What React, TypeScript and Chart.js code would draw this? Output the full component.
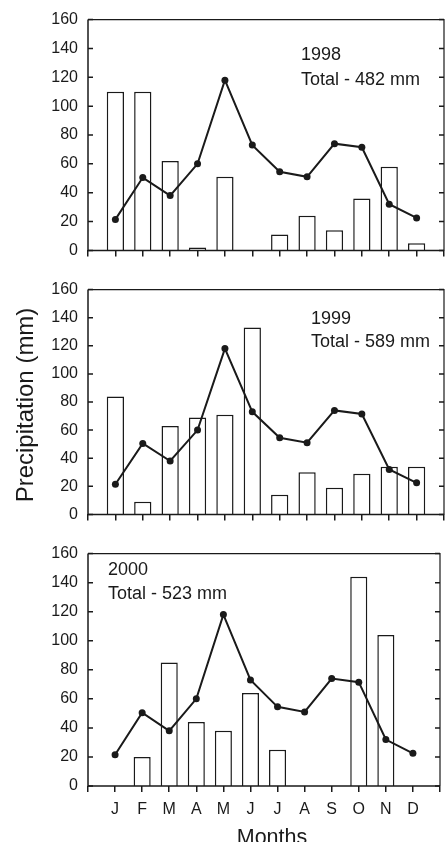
import React, { useEffect, useRef } from 'react';
import { Chart, registerables } from 'chart.js';

Chart.register(...registerables);

// ---------- data ----------
const months = ['J', 'F', 'M', 'A', 'M', 'J', 'J', 'A', 'S', 'O', 'N', 'D'];
const axisLabels = ['', ...months, ''];
const meanLine = [21.5, 50.5, 38, 60, 118, 73, 54.5, 51, 74, 71.5, 32, 22.5];
const rain1998 = [110, 110, 62, 2, 51, null, 11, 24, 14, 36, 58, 5];
const rain1999 = [84, 9, 63, 69, 71, 133, 14, 30, 19, 29, 34, 34];
const rain2000 = [null, 20, 85, 44, 38, 64, 25, null, null, 144, 104, null];
const yearLabels = ['1998', '1999', '2000'];
const totalLabels = ['Total - 482 mm', 'Total - 589 mm', 'Total - 523 mm'];
const yMin = 0;
const yMax = 160;
const yStep = 20;
const yTitle = 'Precipitation (mm)';
const xTitle = 'Months';

const FONT = "'Liberation Sans', Arial, Helvetica, sans-serif";
const INK = '#1a1a1a';

type TextItem = { text: string; x: number; y: number; size: number; align?: CanvasTextAlign; rotate?: boolean };

const framePlugin = {
  id: 'frame',
  afterDatasetsDraw(chart: any, _args: any, opts: any) {
    const { ctx, chartArea: a, scales } = chart;
    const ys = scales.y;
    ctx.save();
    ctx.strokeStyle = INK;
    ctx.lineWidth = 1.5;
    ctx.beginPath();
    ctx.moveTo(a.left, a.top);
    ctx.lineTo(a.left, a.bottom);
    ctx.lineTo(a.right, a.bottom);
    ctx.stroke();
    ctx.lineWidth = 1.2;
    ctx.beginPath();
    ctx.moveTo(a.left, a.top);
    ctx.lineTo(a.right, a.top);
    ctx.lineTo(a.right, a.bottom);
    ctx.stroke();
    ctx.lineWidth = 1.5;
    ctx.beginPath();
    ys.ticks.forEach((t: any) => {
      const py = ys.getPixelForValue(t.value);
      ctx.moveTo(a.left, py);
      ctx.lineTo(a.left + 5, py);
      ctx.moveTo(a.right, py);
      ctx.lineTo(a.right - 5, py);
    });
    ctx.stroke();
    ctx.restore();
  },
  afterDraw(chart: any, _args: any, opts: any) {
    const { ctx } = chart;
    const off = opts.offsetY || 0;
    (opts.texts || []).forEach((t: TextItem) => {
      ctx.save();
      ctx.fillStyle = INK;
      ctx.font = `${t.size}px ${FONT}`;
      ctx.textBaseline = 'alphabetic';
      ctx.textAlign = t.align || 'left';
      if (t.rotate) {
        ctx.translate(t.x, t.y - off);
        ctx.rotate(-Math.PI / 2);
        ctx.fillText(t.text, 0, 0);
      } else {
        ctx.fillText(t.text, t.x, t.y - off);
      }
      ctx.restore();
    });
  },
};

type Panel = {
  top: number;
  height: number;
  padTop: number;
  xHeight: number;
  showMonths: boolean;
  bars: (number | null)[];
  texts: TextItem[];
};

const panels: Panel[] = [
  {
    top: 0, height: 270, padTop: 19, xHeight: 12, showMonths: false, bars: rain1998,
    texts: [
      { text: yearLabels[0], x: 301, y: 60, size: 18 },
      { text: totalLabels[0], x: 301, y: 84.5, size: 18 },
    ],
  },
  {
    top: 270, height: 264, padTop: 12, xHeight: 12, showMonths: false, bars: rain1999,
    texts: [
      { text: yearLabels[1], x: 311, y: 323.5, size: 18 },
      { text: totalLabels[1], x: 311, y: 347, size: 18 },
      { text: yTitle, x: 33, y: 405, size: 24, align: 'center', rotate: true },
    ],
  },
  {
    top: 534, height: 308, padTop: 13, xHeight: 56, showMonths: true, bars: rain2000,
    texts: [
      { text: yearLabels[2], x: 108, y: 575, size: 18 },
      { text: totalLabels[2], x: 108, y: 598.5, size: 18 },
      { text: xTitle, x: 272, y: 844, size: 21.5, align: 'center' },
    ],
  },
];

function PanelChart({ p }: { p: Panel }) {
  const ref = useRef<HTMLCanvasElement>(null);
  useEffect(() => {
    if (!ref.current) return;
    const chart = new Chart(ref.current, {
      type: 'bar',
      data: {
        labels: axisLabels,
        datasets: [
          {
            type: 'line',
            data: [null, ...meanLine, null],
            borderColor: INK,
            borderWidth: 2,
            pointRadius: 3.5,
            pointBackgroundColor: INK,
            pointBorderWidth: 0,
            tension: 0,
            order: 0,
          } as any,
          {
            type: 'bar',
            data: [null, ...p.bars, null],
            backgroundColor: '#ffffff',
            borderColor: INK,
            borderWidth: 1.5,
            barPercentage: 0.63,
            categoryPercentage: 1,
            order: 1,
          } as any,
        ],
      },
      options: {
        animation: false,
        responsive: false,
        devicePixelRatio: 1,
        layout: { padding: { top: p.padTop, right: 1, left: 0, bottom: 0 } },
        plugins: {
          legend: { display: false },
          tooltip: { enabled: false },
          frame: { offsetY: p.top, texts: p.texts },
        } as any,
        scales: {
          x: {
            type: 'category',
            offset: false,
            afterFit: (s: any) => { s.height = p.xHeight; },
            grid: {
              display: true,
              offset: false,
              drawOnChartArea: false,
              drawTicks: true,
              tickLength: 6,
              color: INK,
              lineWidth: 1.5,
            },
            border: { display: false },
            ticks: {
              display: p.showMonths,
              autoSkip: false,
              maxRotation: 0,
              padding: 8,
              color: INK,
              font: { family: FONT, size: 16 },
            },
          },
          y: {
            min: yMin,
            max: yMax,
            afterFit: (s: any) => { s.width = 88; },
            grid: { display: false, drawTicks: false },
            border: { display: false },
            ticks: {
              stepSize: yStep,
              padding: 10,
              color: INK,
              font: { family: FONT, size: 16 },
            },
          },
        },
      } as any,
      plugins: [framePlugin as any],
    });
    return () => chart.destroy();
  }, [p]);
  return (
    <canvas
      ref={ref}
      width={448}
      height={p.height}
      style={{ position: 'absolute', left: 0, top: p.top, width: 448, height: p.height, display: 'block' }}
    />
  );
}

export default function App() {
  return (
    <div style={{ position: 'absolute', left: 0, top: 0, width: 448, height: 842, overflow: 'hidden', background: '#fff' }}>
      {panels.map((p, i) => (
        <PanelChart key={i} p={p} />
      ))}
    </div>
  );
}
